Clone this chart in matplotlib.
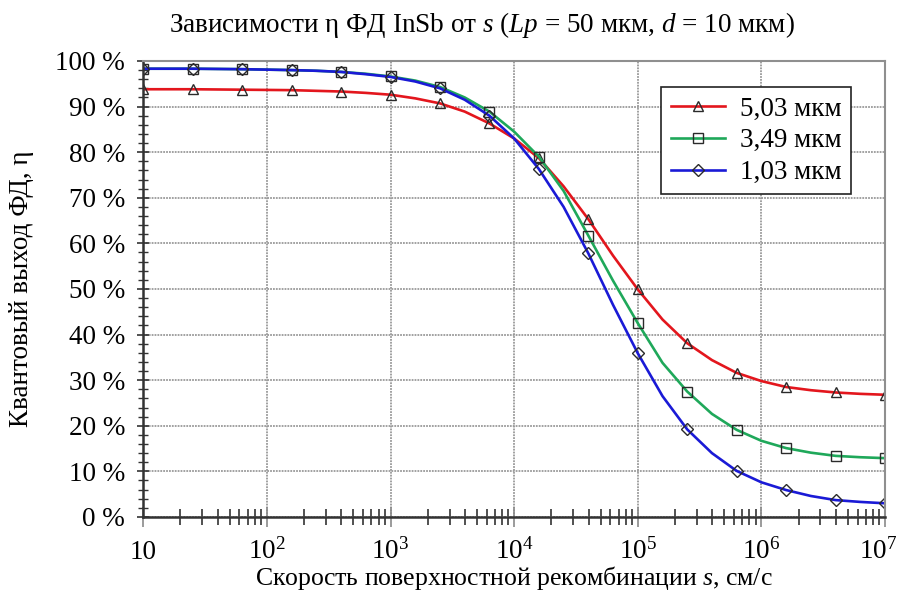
import matplotlib
matplotlib.use("Agg")
import matplotlib.pyplot as plt
import matplotlib.transforms as mtransforms
from matplotlib.ticker import FixedLocator, LogLocator, NullFormatter

# Line samples every 0.2 decade (markers sit on every other sample)
s_values = [10, 15.85, 25.12, 39.81, 63.1, 100, 158.5, 251.2, 398.1, 631,
            1e3, 1585, 2512, 3981, 6310, 1e4, 15849, 25119, 39811, 63096,
            1e5, 158489, 251189, 398107, 630957, 1e6, 1584893, 2511886, 3981072, 6309573, 1e7]

eta_503 = [93.8, 93.8, 93.8, 93.75, 93.7, 93.65, 93.6, 93.45, 93.3, 93.0,
           92.6, 91.8, 90.7, 88.9, 86.3, 83.0, 78.7, 72.5, 65.3, 57.3,
           49.9, 43.3, 38.1, 34.4, 31.6, 29.8, 28.5, 27.8, 27.3, 27.0, 26.8]
eta_349 = [98.3, 98.3, 98.3, 98.25, 98.2, 98.1, 98.0, 97.85, 97.6, 97.2,
           96.6, 95.7, 94.3, 92.0, 88.9, 84.5, 79.0, 71.5, 61.7, 51.8,
           42.5, 33.8, 27.5, 22.6, 19.1, 16.7, 15.1, 14.1, 13.4, 13.1, 12.9]
eta_103 = [98.3, 98.3, 98.3, 98.25, 98.2, 98.1, 98.0, 97.85, 97.6, 97.1,
           96.5, 95.5, 94.0, 91.5, 88.0, 83.0, 76.3, 68.0, 57.8, 46.5,
           35.9, 26.5, 19.2, 14.0, 10.1, 7.6, 5.9, 4.6, 3.7, 3.3, 3.0]

labels = ["5,03 мкм", "3,49 мкм", "1,03 мкм"]
y_ticks = [0, 10, 20, 30, 40, 50, 60, 70, 80, 90, 100]
x_ticks = [10, 1e2, 1e3, 1e4, 1e5, 1e6, 1e7]
x_ticklabels = ["10", "$10^{2}$", "$10^{3}$", "$10^{4}$", "$10^{5}$", "$10^{6}$", "$10^{7}$"]

plt.rcParams["font.family"] = ["Liberation Serif", "DejaVu Serif"]
plt.rcParams["mathtext.fontset"] = "custom"
plt.rcParams["mathtext.rm"] = "Liberation Serif"
plt.rcParams["mathtext.it"] = "Liberation Serif:italic"

FS = 19.5

fig = plt.figure(figsize=(9.01, 5.96), dpi=100)
ax = fig.add_axes([0.159, 0.1326, 0.8233, 0.7651])

styles = [
    (eta_503, "#e3161d", "^"),
    (eta_349, "#1fa85a", "s"),
    (eta_103, "#1a1ad6", "D"),
]
for (vals, col, mk), lab in zip(styles, labels):
    ax.plot(s_values, vals, color=col, lw=1.9, marker=mk, markevery=2,
            ms=7 if mk != "D" else 6, mfc="none", mec="#2a2a2a", mew=1.0,
            label=lab)

ax.set_xscale("log")
ax.set_xlim(10, 1e7)
ax.set_ylim(0, 100)

ax.xaxis.set_major_locator(FixedLocator(x_ticks))
ax.set_xticklabels(x_ticklabels)
ax.xaxis.set_minor_locator(LogLocator(base=10, subs=range(2, 10)))
ax.xaxis.set_minor_formatter(NullFormatter())

ax.yaxis.set_major_locator(FixedLocator(y_ticks))
ax.set_yticklabels([f"{v} %" for v in y_ticks])
ax.yaxis.set_minor_locator(FixedLocator(range(0, 101, 2)))

ax.grid(True, which="major", color="#9a9a9a", linestyle=(0, (1, 0.6)), lw=1.3)

ax.tick_params(axis="both", which="both", labelsize=FS, direction="inout", color="#333333")
ax.tick_params(axis="x", which="major", length=14, width=1.2, color="#8a8a8a", pad=23)
ax.tick_params(axis="x", which="minor", length=12, width=1.2)
ax.tick_params(axis="y", which="major", length=8, width=1.2, pad=9)
ax.tick_params(axis="y", which="minor", length=6.5, width=1.0)
for t in ax.get_xticklabels():
    t.set_verticalalignment("baseline")
# last label sits at the right edge, nudge it in a little
last = ax.xaxis.get_major_ticks()[-1].label1
last.set_transform(last.get_transform() +
                   mtransforms.ScaledTranslation(-7 / 100, 0, fig.dpi_scale_trans))

for side in ["left", "bottom"]:
    ax.spines[side].set_color("#333333")
    ax.spines[side].set_linewidth(1.8)
for side in ["top", "right"]:
    ax.spines[side].set_color("#8f8f8f")
    ax.spines[side].set_linewidth(1.5)

ax.set_xlabel("Скорость поверхностной рекомбинации $s$, см/с", fontsize=18.5)
ax.xaxis.set_label_coords(0.5, -0.134)
ax.xaxis.label.set_va("center")
ax.set_ylabel("Квантовый выход ФД, η", fontsize=FS)
ax.yaxis.set_label_coords(-0.1636, 0.5)
ax.yaxis.label.set_va("center")

fig.text(482 / 901, 1 - 25 / 596,
         "Зависимости η ФД InSb от $s$ ($Lp$ = 50 мкм, $d$ = 10 мкм)",
         fontsize=FS, ha="center", va="center")

leg = ax.legend(loc="upper right", bbox_to_anchor=(0.954, 0.943), fontsize=FS,
                fancybox=False, framealpha=1, edgecolor="#222222",
                handlelength=2.0, handletextpad=0.55, borderpad=0.35,
                labelspacing=0.25, borderaxespad=0)
leg.get_frame().set_linewidth(1.2)

fig.savefig("out.png", dpi=100)
